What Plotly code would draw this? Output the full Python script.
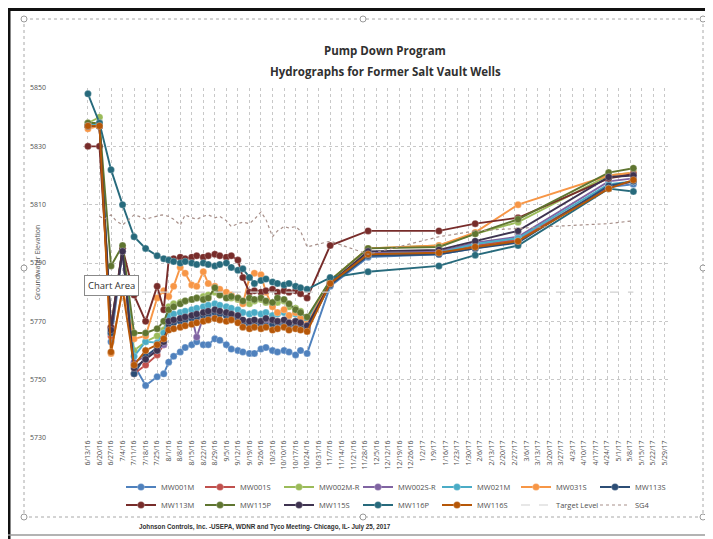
import plotly.graph_objects as go
import datetime as _dt

# ---------------- data ----------------
dates = ["2016-06-13", "2016-06-20", "2016-06-27", "2016-07-04", "2016-07-11", "2016-07-18",
         "2016-07-25", "2016-07-29", "2016-08-01", "2016-08-04", "2016-08-08", "2016-08-11",
         "2016-08-15", "2016-08-18", "2016-08-22", "2016-08-25", "2016-08-29", "2016-09-01",
         "2016-09-05", "2016-09-08", "2016-09-12", "2016-09-15", "2016-09-19", "2016-09-22",
         "2016-09-26", "2016-09-29", "2016-10-03", "2016-10-06", "2016-10-10", "2016-10-13",
         "2016-10-17", "2016-10-20", "2016-10-24", "2016-11-07", "2016-11-30", "2017-01-12",
         "2017-02-03", "2017-03-01", "2017-04-25", "2017-05-10"]

mw001m = [5837, 5838, 5763, 5794, 5755, 5748, 5751, 5752, 5756, 5758, 5759.5, 5761, 5762, 5763,
          5762, 5762, 5764, 5763.5, 5762, 5760.5, 5760, 5759.5, 5759, 5759, 5760.5, 5761, 5760,
          5759.5, 5760, 5759.5, 5758.5, 5760, 5759, 5782, 5792, 5793, 5795, 5797.5, 5816, 5817]
mw001s = [5837, 5837, 5765, 5795, 5752, 5755, 5758.5, 5762, 5770, 5770.5, 5771, 5771.5, 5772,
          5771, 5772.5, 5772, 5773, 5773.5, 5772, 5772.5, 5771.5, 5770, 5769.5, 5769, 5770,
          5769.5, 5769, 5770, 5769, 5769.5, 5770, 5769, 5768, 5783, 5793, 5794, 5796, 5798,
          5816, 5818]
mw002mr = [5838, 5840, 5768, 5795, 5760, 5763, 5765, 5767, 5775, 5776, 5776.5, 5777, 5777.5,
           5778, 5778.5, 5779, 5780, 5779, 5778.5, 5778, 5777.5, 5776.5, 5776, 5777, 5777.5,
           5776.5, 5776, 5776.5, 5777, 5775, 5774.5, 5773.5, 5771, 5784, 5795, 5796, 5800,
           5804, 5820, 5821]
mw002sr = [5837, 5837, 5768, 5794, 5756, 5758, 5760, 5762, 5769, 5770, 5770.5, 5771, 5771.5,
           5764.6, 5771.5, 5772, 5772.5, 5773, 5772, 5771.5, 5771, 5770, 5769.5, 5770, 5769,
           5769.5, 5770, 5769, 5769.5, 5768.5, 5769, 5768.5, 5767.5, 5783, 5793.5, 5794, 5797,
           5799, 5818, 5819]
mw021m = [5837, 5838, 5766, 5795, 5758, 5763, 5762.7, 5766, 5772, 5772.5, 5773, 5773.5, 5774,
          5774.5, 5775, 5775.5, 5776, 5775.5, 5775, 5774.5, 5774, 5773, 5772.5, 5773, 5772.5,
          5773, 5772, 5772.5, 5773, 5772, 5772.5, 5771.5, 5770.5, 5783.5, 5793, 5793.5, 5796.5,
          5798.5, 5817, 5818]
mw031s = [5836, 5837, 5759, 5781, 5764, 5765, 5778, 5780.5, 5778.5, 5782, 5788.5, 5786.5,
          5782.5, 5782, 5787, 5783, 5782, 5781, 5780, 5779, 5778, 5776, 5785, 5786.5, 5786,
          5780, 5775, 5773, 5774, 5772, 5773, 5771, 5769, 5784, 5795, 5796, 5800.5, 5810, 5820,
          5821]
mw113s = [5837, 5837, 5766, 5795, 5752, 5758, 5761, 5763, 5769, 5769.5, 5770, 5770.5, 5771,
          5771.5, 5772, 5772.5, 5773, 5772.5, 5772, 5771.5, 5771, 5769.5, 5769, 5769.5, 5769,
          5768.5, 5769, 5769.5, 5768.5, 5769, 5768.5, 5768, 5767.5, 5782.5, 5792.5, 5793, 5795,
          5797, 5816.5, 5818]
mw113m = [5830, 5830, 5768, 5795, 5779, 5770, 5782, 5774, 5791, 5791.5, 5792, 5791.5, 5792,
          5792.5, 5792, 5792.5, 5793, 5792.5, 5792, 5792.5, 5791, 5785, 5780, 5780.5, 5780,
          5780.5, 5781, 5780, 5780.5, 5780, 5780.5, 5779.5, 5778, 5796, 5801, 5801, 5803.5,
          5805.5, 5819, 5820.5]
mw115p = [5838, 5838, 5789, 5796, 5766, 5766, 5767.5, 5770, 5774, 5775, 5776, 5777, 5777.5,
          5778, 5777.5, 5778, 5781.5, 5779, 5778, 5778.5, 5778, 5777, 5778, 5777.5, 5778, 5777,
          5776.5, 5778, 5777.5, 5776, 5774, 5773, 5771.5, 5784, 5795, 5795.5, 5800, 5805, 5821,
          5822.5]
mw115s = [5837, 5837, 5767, 5794, 5754, 5757, 5760, 5763, 5770, 5770.5, 5771, 5771.5, 5772,
          5772.5, 5773, 5773.5, 5774, 5773.5, 5773, 5772.5, 5772, 5770.5, 5770, 5770.5, 5770,
          5771, 5770.5, 5770, 5770.5, 5769.5, 5770, 5769.5, 5768.5, 5783, 5794, 5794.5, 5797.5,
          5801, 5819.5, 5820]
mw116p = [5848, 5838, 5822, 5810, 5799, 5795, 5792.5, 5791.5, 5791, 5790.5, 5790, 5790.5, 5790,
          5789.5, 5790, 5789.5, 5789, 5789.5, 5790, 5788.5, 5787.5, 5788, 5785, 5783, 5784,
          5784.5, 5783.5, 5783, 5782.5, 5783, 5782, 5781.5, 5781, 5785, 5787, 5789, 5792.7, 5796,
          5815.5, 5814.5]
mw116s = [5837, 5837, 5759.5, 5781, 5755, 5760, 5762, 5764, 5767, 5767.5, 5768, 5768.5, 5769,
          5769.5, 5770, 5770.5, 5771, 5770.5, 5770, 5770.5, 5769.5, 5768, 5767.5, 5768, 5767.5,
          5768, 5767, 5767.5, 5768, 5767, 5767.5, 5767, 5766.5, 5783, 5793, 5793.5, 5795.5,
          5797.5, 5815.5, 5818.5]

sg4_dates = ["2016-06-20", "2016-06-23", "2016-06-27", "2016-06-30", "2016-07-04", "2016-07-07",
             "2016-07-11", "2016-07-14", "2016-07-18", "2016-07-21", "2016-07-25", "2016-07-28",
             "2016-08-01", "2016-08-04", "2016-08-08", "2016-08-11", "2016-08-15", "2016-08-18",
             "2016-08-22", "2016-08-25", "2016-08-29", "2016-09-01", "2016-09-05", "2016-09-08",
             "2016-09-12", "2016-09-15", "2016-09-19", "2016-09-22", "2016-09-26", "2016-09-29",
             "2016-10-03", "2016-10-06", "2016-10-10", "2016-10-13", "2016-10-17", "2016-10-20",
             "2016-10-24", "2016-11-07", "2016-11-30", "2017-01-12", "2017-02-03", "2017-03-01",
             "2017-03-20", "2017-04-25", "2017-05-10"]
sg4 = [5806, 5805, 5806.5, 5804.5, 5803, 5804.5, 5806.5, 5806, 5805, 5805.5, 5806, 5806.5,
       5806, 5805, 5803, 5806.5, 5805.5, 5805, 5806, 5806.5, 5805.5, 5806, 5804.5, 5802.5,
       5803.5, 5804, 5803.5, 5805, 5807.5, 5805, 5799, 5801, 5802.5, 5802, 5802.5, 5801,
       5795.5, 5797.5, 5793, 5799, 5801, 5802, 5802.5, 5803.5, 5804.5]

target_dates = ["2016-06-13", "2017-05-10"]
target_level = [5780, 5780]

tick_labels = ["6/13/16", "6/20/16", "6/27/16", "7/4/16", "7/11/16", "7/18/16", "7/25/16",
               "8/1/16", "8/8/16", "8/15/16", "8/22/16", "8/29/16", "9/5/16", "9/12/16",
               "9/19/16", "9/26/16", "10/3/16", "10/10/16", "10/17/16", "10/24/16", "10/31/16",
               "11/7/16", "11/14/16", "11/21/16", "11/28/16", "12/5/16", "12/12/16", "12/19/16",
               "12/26/16", "1/2/17", "1/9/17", "1/16/17", "1/23/17", "1/30/17", "2/6/17",
               "2/13/17", "2/20/17", "2/27/17", "3/6/17", "3/13/17", "3/20/17", "3/27/17",
               "4/3/17", "4/10/17", "4/17/17", "4/24/17", "5/1/17", "5/8/17", "5/15/17",
               "5/22/17", "5/29/17"]
y_ticks = [5730, 5750, 5770, 5790, 5810, 5830, 5850]

series = [
    ("MW001M", mw001m, "#4F81BD"),
    ("MW001S", mw001s, "#C0504D"),
    ("MW002M-R", mw002mr, "#9BBB59"),
    ("MW002S-R", mw002sr, "#8064A2"),
    ("MW021M", mw021m, "#4BACC6"),
    ("MW031S", mw031s, "#F79646"),
    ("MW113S", mw113s, "#2C4D75"),
    ("MW113M", mw113m, "#772C2A"),
    ("MW115P", mw115p, "#5F7530"),
    ("MW115S", mw115s, "#3E3350"),
    ("MW116P", mw116p, "#276A7C"),
    ("MW116S", mw116s, "#B65708"),
]

# ---------------- geometry (screen pixels; page body has an 8px margin) ----------------
OFF = 8
W, H = 713 - OFF, 539 - OFF
SL, SR, ST, SB = 83, 668, 88, 438          # plot area in screen pixels
L, R, T, B = SL - OFF, SR - OFF, ST - OFF, SB - OFF


def px(x):  # screen x -> paper
    return (x - SL) / (SR - SL)


def py(y):  # screen y -> paper
    return (SB - y) / (SB - ST)


fig = go.Figure()

for i, (name, vals, col) in enumerate(series):
    fig.add_trace(go.Scatter(
        x=dates, y=vals, name=name, mode="lines+markers",
        legend="legend" if i < 7 else "legend2",
        line=dict(color=col, width=1.9),
        marker=dict(symbol="circle", size=7, color=col,
                    line=dict(color="rgba(255,255,255,0.5)", width=0.5)),
    ))

fig.add_trace(go.Scatter(
    x=target_dates, y=target_level, name="Target Level", mode="lines",
    legend="legend2",
    line=dict(color="#CFCFCF", width=1.2, dash="dash"),
))
fig.add_trace(go.Scatter(
    x=sg4_dates, y=sg4, name="SG4", mode="lines",
    legend="legend2",
    line=dict(color="#A8908A", width=1.2, dash="dot"),
))

_d0 = _dt.date(2016, 6, 13)
tick_vals = [(_d0 + _dt.timedelta(days=7 * i)).isoformat() for i in range(len(tick_labels))]

leg_common = dict(orientation="h", xanchor="left", yanchor="middle",
                  font=dict(size=7.5, color="#505050"), entrywidth=34,
                  entrywidthmode="pixels", itemwidth=30, bgcolor="rgba(0,0,0,0)")

fig.update_layout(
    width=W, height=H,
    margin=dict(l=L, r=W - R, t=T, b=H - B),
    paper_bgcolor="white", plot_bgcolor="white",
    font=dict(family="Open Sans, Liberation Sans, sans-serif", color="#404040"),
    showlegend=True,
    legend=dict(x=px(121), y=py(487), **leg_common),
    legend2=dict(x=px(121), y=py(505), **leg_common),
    xaxis=dict(type="date", range=["2016-06-10", "2017-05-31"],
               tickmode="array", tickvals=tick_vals, ticktext=tick_labels,
               tickangle=-90, tickfont=dict(size=7, color="#505050"),
               showgrid=True, gridcolor="#C8C8C8", griddash="dot", gridwidth=1,
               showline=False, zeroline=False, ticks=""),
    yaxis=dict(range=[5730, 5850], tickmode="array", tickvals=y_ticks,
               ticktext=[str(v) for v in y_ticks],
               tickfont=dict(size=7, color="#505050"), ticklabelstandoff=36,
               showgrid=True, gridcolor="#C8C8C8", griddash="dot", gridwidth=1,
               zeroline=False, showline=False, ticks=""),
)

ann = []
ann.append(dict(x=px(385), y=py(50), xref="paper", yref="paper", showarrow=False,
                text="<b>Pump Down Program</b>", font=dict(size=11.5, color="#303030"),
                xanchor="center", yanchor="middle"))
ann.append(dict(x=px(385), y=py(71), xref="paper", yref="paper", showarrow=False,
                text="<b>Hydrographs for Former Salt Vault Wells</b>",
                font=dict(size=11.5, color="#303030"), xanchor="center", yanchor="middle"))
ann.append(dict(x=px(37), y=py(263), xref="paper", yref="paper", showarrow=False,
                text="Groundwater Elevation", textangle=-90,
                font=dict(size=7, color="#505050"), xanchor="center", yanchor="middle"))
ann.append(dict(x=px(265), y=py(527), xref="paper", yref="paper", showarrow=False,
                text="<b>Johnson Controls, Inc. -USEPA, WDNR and Tyco Meeting- Chicago, IL- July 25, 2017</b>",
                font=dict(size=6.3, color="#303030", family="Liberation Sans, Arial"),
                xanchor="center", yanchor="middle"))
ann.append(dict(x=px(111), y=py(285), xref="paper", yref="paper", showarrow=False,
                text="Chart Area", font=dict(size=9.5, color="#303030"),
                bgcolor="white", bordercolor="#8A8A8A", borderwidth=1, borderpad=3,
                xanchor="center", yanchor="middle"))
fig.update_layout(annotations=ann)

shapes = []
# scanned page frame (thick black top / left)
shapes.append(dict(type="line", xref="paper", yref="paper", x0=px(8), x1=px(713),
                   y0=py(9), y1=py(9), line=dict(color="#111111", width=4)))
shapes.append(dict(type="line", xref="paper", yref="paper", x0=px(9), x1=px(9),
                   y0=py(8), y1=py(539), line=dict(color="#111111", width=3)))
shapes.append(dict(type="line", xref="paper", yref="paper", x0=px(8), x1=px(713),
                   y0=py(535), y1=py(535), line=dict(color="#9A9A9A", width=1.5)))
# chart-area selection border
shapes.append(dict(type="rect", xref="paper", yref="paper", x0=px(24), x1=px(703),
                   y0=py(19), y1=py(517), line=dict(color="#A8A8A8", width=1, dash="dot")))
for hx, hy in [(24, 19), (363, 19), (703, 19), (24, 268), (703, 268), (24, 517), (363, 517),
               (703, 517)]:
    shapes.append(dict(type="circle", xref="paper", yref="paper",
                       x0=px(hx - 3), x1=px(hx + 3), y0=py(hy - 3), y1=py(hy + 3),
                       line=dict(color="#9A9A9A", width=1), fillcolor="white"))
fig.update_layout(shapes=shapes)

fig.write_html("out.html")
